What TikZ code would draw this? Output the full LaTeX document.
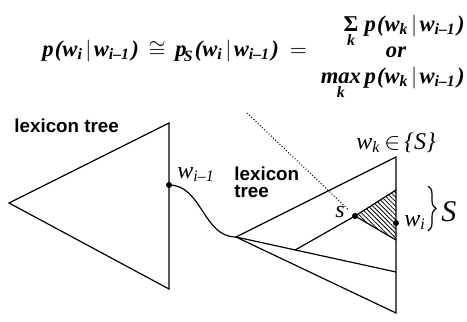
\documentclass[tikz,border=0pt]{standalone}
\usepackage{amsmath}
\usepackage{fontspec}
\setmainfont{Liberation Serif}
\setsansfont{Liberation Sans}
\usetikzlibrary{calc,patterns.meta,decorations.pathreplacing}
\newcommand\bi[1]{\text{\bfseries\itshape #1}}
\newcommand\cprob[2]{\bi{p}#1\mkern1mu\bi{(}\bi{w}_{\bi{#2}}\mkern2mu|\mkern2mu\bi{w}_{\bi{i--1}}\mkern1mu\bi{)}}
\tikzset{
  treelabel/.style={font=\sffamily\bfseries\fontsize{9.4}{8.6}\selectfont, inner sep=0pt},
  symlabel/.style={font=\itshape\fontsize{12}{12}\selectfont, inner sep=0pt},
  formula/.style={font=\fontsize{11.3}{11.3}\selectfont, inner sep=0pt},
  leaf/.style={circle, fill=black, inner sep=0pt, minimum size=3pt},
  edge/.style={line width=0.6pt},
}
\begin{document}
\begin{tikzpicture}[x=0.5pt, y=-0.5pt]
  \useasboundingbox (0,0) rectangle (467,322);

  % formula
  \node[formula, anchor=base west] (lhs) at (42,56)
    {$\cprob{}{i}\mkern3mu\cong\mkern3mu\cprob{_{\!\bi{S}}}{i}\mkern4mu=$};
  \node[formula, anchor=base east] (sumline) at (465,31)
    {$\mathop{\text{\bfseries Σ}}\limits_{\bi{k}}\mkern2mu\cprob{}{k}$};
  \node[formula, anchor=base] (orword) at (396,57) {$\bi{or}$};
  \node[formula, anchor=base east] (maxline) at (465,83)
    {$\mathop{\bi{max}}\limits_{\bi{k}}\cprob{}{k}$};

  % left lexicon tree
  \coordinate (LA) at (9,203);
  \coordinate (LT) at (169,123);
  \coordinate (LB) at (169,289);
  \draw[edge] (LA) -- (LT) -- (LB) -- cycle;
  \node[leaf] (wprev) at (169,185) {};
  \node[treelabel, anchor=base west] (lexL) at (14,132) {lexicon tree};
  \node[symlabel, anchor=base west] (wprevlab) at (177,178) {w\textsubscript{i--1}};

  % right lexicon tree
  \coordinate (RA) at (236,237);
  \coordinate (RT) at (396,157);
  \coordinate (RB) at (396,313);
  \coordinate (RM) at (396,272);
  \coordinate (HT) at (396,190);
  \coordinate (HB) at (396,240);
  \coordinate (Br) at ($(RA)!0.37!(RM)$);
  \node[leaf] (sdot) at (355,216) {};
  \fill[pattern={Lines[angle=-45,distance=1.6pt,line width=0.4pt]}]
    (sdot.center) -- (HT) -- (HB) -- cycle;
  \draw[edge] (RA) -- (RT) -- (RB) -- cycle;
  \draw[edge] (RA) -- (RM);
  \draw[edge] (Br) -- (sdot.center) -- (HT);
  \draw[edge] (sdot.center) -- (HB);
  \node[leaf] (wi) at (396,223) {};
  \node[treelabel, anchor=north west, align=left] (lexR) at (234,166) {lexicon\\tree};
  \node[symlabel, anchor=base] (wklab) at (396,149) {w\textsubscript{k}\,$\in$\,\{\textit{S}\}};
  \node[symlabel, anchor=base east] (slab) at (345,217) {s};
  \node[symlabel, anchor=base west] (wilab) at (404,226) {w\textsubscript{i}};

  % brace for S
  \coordinate (BrT) at (428,186);
  \coordinate (BrB) at (428,231);
  \draw[edge, decorate, decoration={brace, amplitude=4pt}] (BrT) -- (BrB);
  \node[symlabel, font=\itshape\fontsize{15}{15}\selectfont, anchor=west] (Slab) at (441,212) {S};

  % word-to-tree transition and pointer
  \draw[edge] (wprev.center) to[out=0, in=180] (RA);
  \coordinate (ptr) at (247,113);
  \draw[densely dotted, line width=0.5pt, shorten >=3pt] (ptr) -- (sdot);
\end{tikzpicture}
\end{document}
